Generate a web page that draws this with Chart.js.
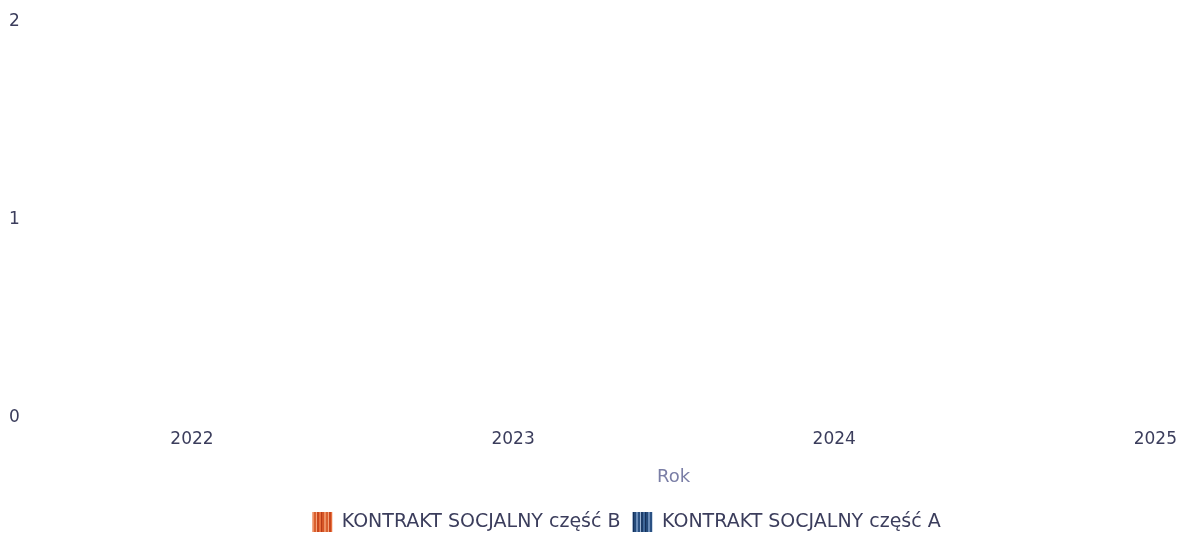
<!DOCTYPE html>
<html>
<head>
<meta charset="utf-8">
<script src="https://cdn.jsdelivr.net/npm/chart.js@4.4.1/dist/chart.umd.min.js"></script>
<style>
  html, body { margin: 0; padding: 0; background: #ffffff; }
  #wrap { width: 1188px; height: 535px; position: relative; }
</style>
</head>
<body>
<div id="wrap"><canvas id="c"></canvas></div>
<script>
const categories = ['2022', '2023', '2024', '2025'];
const seriesNames = ['KONTRAKT SOCJALNY część B', 'KONTRAKT SOCJALNY część A'];
const seriesB = [0, 0, 0, 0];
const seriesA = [0, 0, 0, 0];
const yTicks = [0, 1, 2];
const xTitle = 'Rok';

function stripePattern(colors, widths) {
  const total = widths.reduce((a, b) => a + b, 0);
  const cv = document.createElement('canvas');
  cv.width = total; cv.height = 4;
  const cx = cv.getContext('2d');
  let x = 0;
  colors.forEach((c, i) => { cx.fillStyle = c; cx.fillRect(x, 0, widths[i], 4); x += widths[i]; });
  return document.getElementById('c').getContext('2d').createPattern(cv, 'repeat');
}
const patB = stripePattern(['#ee9063', '#d9602f', '#f4a47c', '#c9471d', '#e8703d', '#b83a17', '#d55526'], [2, 2, 1, 2, 2, 1, 2]);
const patA = stripePattern(['#6a8cb8', '#2a5183', '#9db5d3', '#1d3d6a', '#3f6798', '#15305a', '#244a7a'], [2, 2, 1, 2, 2, 1, 2]);

const fontFamily = "'DejaVu Sans', sans-serif";
const textColor = '#3b3d5c';

const legendShift = {
  id: 'legendShift',
  afterLayout(chart) {
    const lg = chart.legend;
    if (lg) { lg.left += 36; lg.right += 36; }
  }
};

new Chart(document.getElementById('c'), {
  type: 'bar',
  data: {
    labels: categories,
    datasets: [
      { label: seriesNames[0], data: seriesB, backgroundColor: patB, borderWidth: 0 },
      { label: seriesNames[1], data: seriesA, backgroundColor: patA, borderWidth: 0 }
    ]
  },
  plugins: [legendShift],
  options: {
    responsive: true,
    maintainAspectRatio: false,
    animation: false,
    layout: { padding: { left: 9, right: 16, top: 22, bottom: -7 } },
    plugins: {
      tooltip: { enabled: false },
      legend: {
        position: 'bottom',
        labels: {
          boxWidth: 20, boxHeight: 20, padding: 12,
          color: textColor,
          font: { family: fontFamily, size: 19 }
        }
      }
    },
    scales: {
      x: {
        stacked: true,
        offset: false,
        grid: { display: false, drawTicks: false },
        border: { display: false },
        ticks: { color: textColor, padding: 11, maxRotation: 0, font: { family: fontFamily, size: 17 } },
        title: { display: true, text: xTitle, color: '#7a7ea6', padding: { top: 6, bottom: 12 }, font: { family: fontFamily, size: 18 } }
      },
      y: {
        stacked: true,
        min: 0, max: 2,
        grid: { display: false, drawTicks: false },
        border: { display: false },
        afterBuildTicks: (s) => { s.ticks = yTicks.map(v => ({ value: v })); },
        afterFit: (s) => { s.width = 183; },
        ticks: { color: textColor, crossAlign: 'far', padding: 0, font: { family: fontFamily, size: 17 } }
      }
    }
  }
});
</script>
</body>
</html>
